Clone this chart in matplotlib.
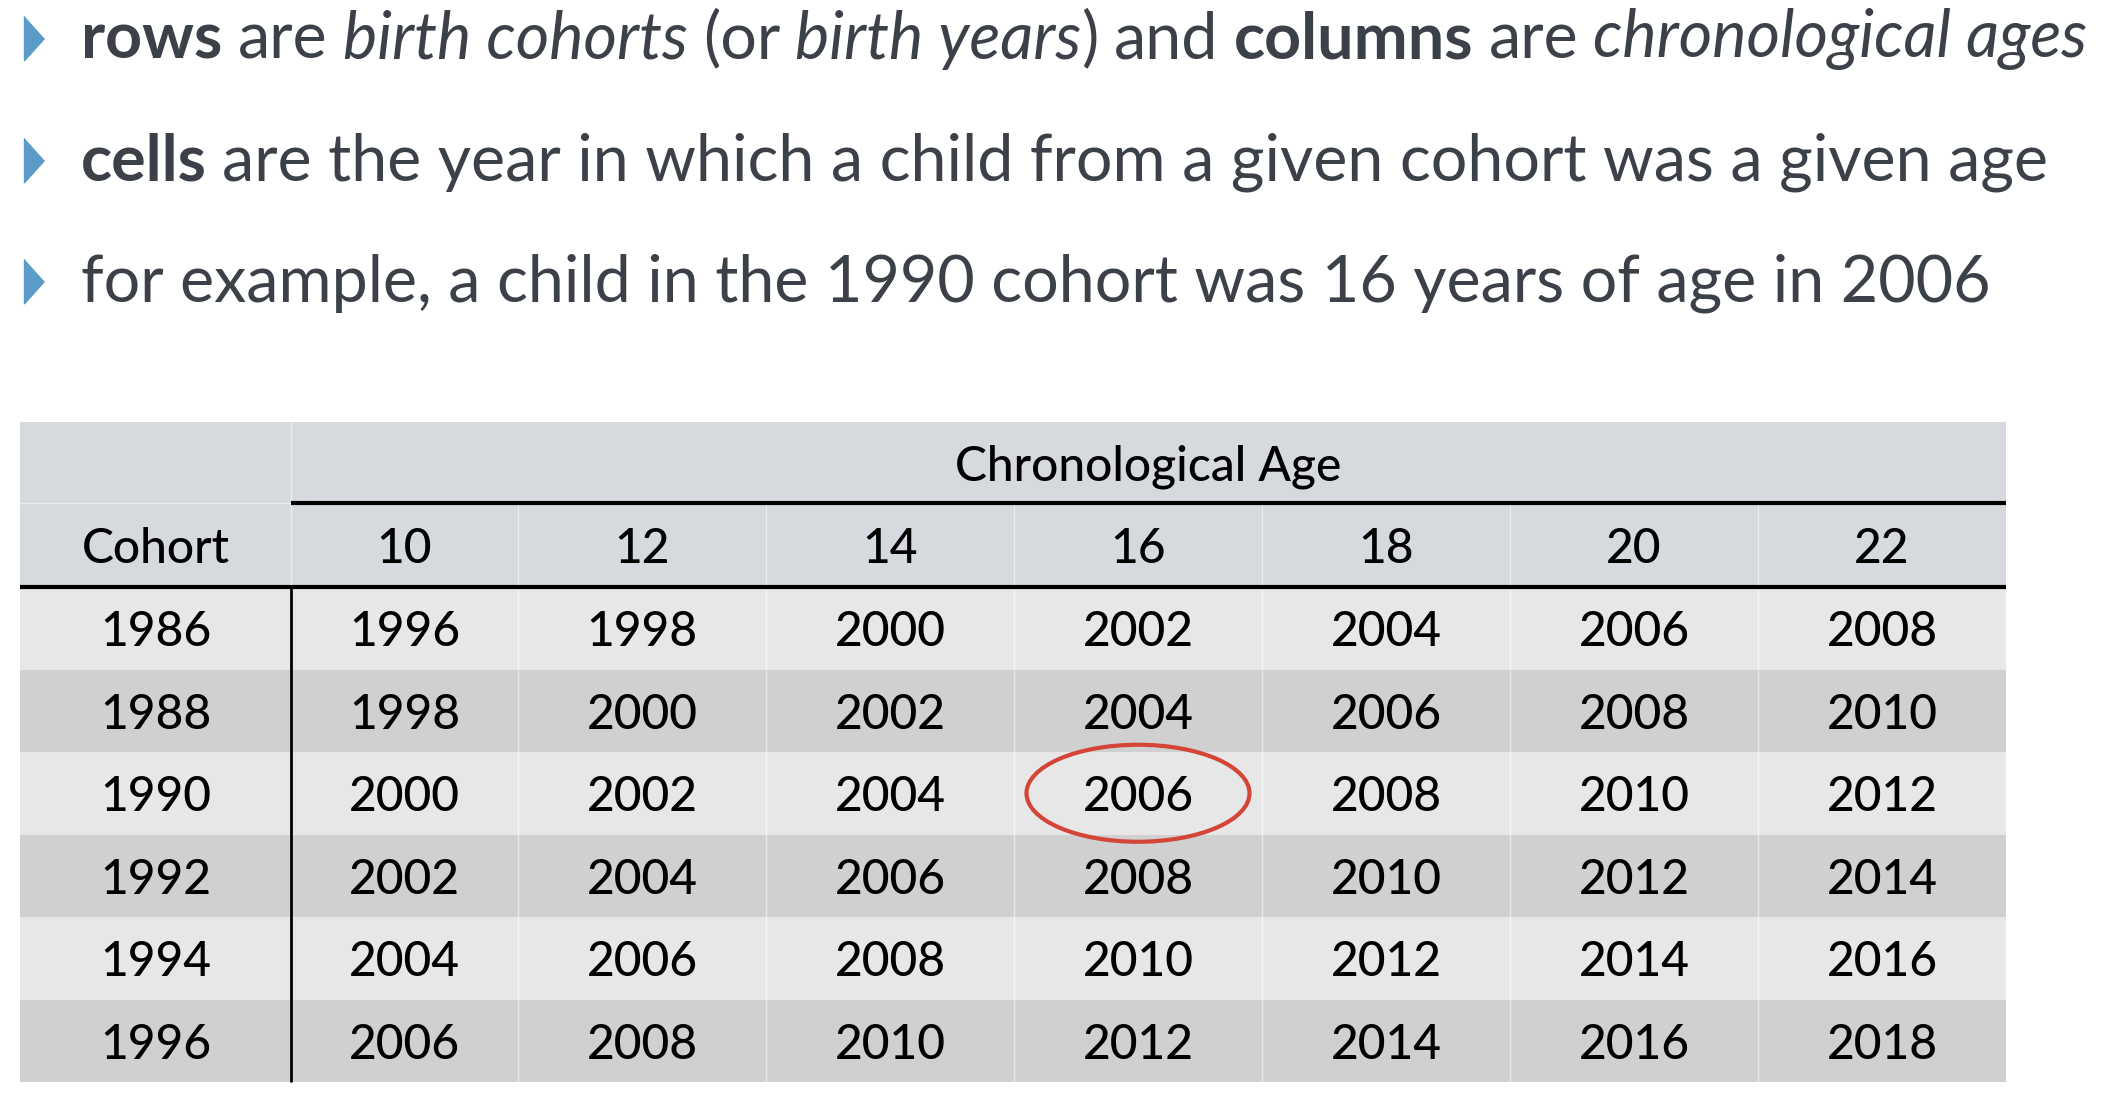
import matplotlib.pyplot as plt
from matplotlib.patches import Rectangle, Ellipse

# data
cohorts = [1986, 1988, 1990, 1992, 1994, 1996]
ages = [10, 12, 14, 16, 18, 20, 22]
highlight_cohort, highlight_age = 1990, 16

bullet_lines = [
    [("rows", "bold", "normal"), ("are", "normal", "normal"),
     ("birth cohorts", "normal", "italic"), ("(or", "normal", "normal"),
     ("birth years", "normal", "italic"), (")", "normal", "normal"),
     ("and", "normal", "normal"), ("columns", "bold", "normal"),
     ("are", "normal", "normal"), ("chronological ages", "normal", "italic")],
    [("cells", "bold", "normal"),
     ("are the year in which a child from a given cohort was a given age", "normal", "normal")],
    [("for example, a child in the 1990 cohort was 16 years of age in 2006", "normal", "normal")],
]

FONT = "Lato"
TXT = "#3c4149"
BLUE = "#5b9bc8"
HEAD_BG = "#d6d9de"
ROW_BG = ["#e7e7e7", "#cfd0cf"]

fig = plt.figure(figsize=(21.16, 11.0), dpi=100)
ax = fig.add_axes([0, 0, 1, 1])
ax.set_xlim(0, 2116)
ax.set_ylim(1100, 0)
ax.axis("off")

# bullets
bullet_fs = 46.5
bullet_y = [40, 162, 283]
tri = [(-0.45, 1), (-0.45, -1), (0.45, 0)]
for line, y in zip(bullet_lines, bullet_y):
    ax.plot([34], [y - 2], marker=tri, markersize=32, color=BLUE, clip_on=False)
    prev = None
    for text, weight, style in line:
        if prev is None:
            prev = ax.text(81, y, text, fontsize=bullet_fs, family=FONT, weight=weight,
                           style=style, color=TXT, va="center", ha="left")
        else:
            gap = 0 if text == ")" else 11
            prev = ax.annotate(text, xy=(1, 0), xycoords=prev, xytext=(gap, 0),
                               textcoords="offset points", fontsize=bullet_fs, family=FONT,
                               weight=weight, style=style, color=TXT,
                               va="bottom", ha="left")

# table geometry
x0 = 20
cohort_w = 271
col_w = [227] + [248] * (len(ages) - 1)
y0 = 422
head_h = [81, 84]
row_h = 82.5

edges = [x0, x0 + cohort_w]
for w in col_w:
    edges.append(edges[-1] + w)
x_right = edges[-1]
y_head2 = y0 + head_h[0]
y_body = y_head2 + head_h[1]
y_bottom = y_body + row_h * len(cohorts)

cell_fs = 34.5
cell_kw = dict(fontsize=cell_fs, family=FONT, weight=500, ha="center",
               va="center", color="black")
dy = 4

# backgrounds
ax.add_patch(Rectangle((x0, y0), x_right - x0, head_h[0] + head_h[1],
                       facecolor=HEAD_BG, edgecolor="none"))
for i, c in enumerate(cohorts):
    ax.add_patch(Rectangle((x0, y_body + i * row_h), x_right - x0, row_h,
                           facecolor=ROW_BG[i % 2], edgecolor="none"))

# faint cell separators
for xe in edges[1:-1]:
    ax.plot([xe, xe], [y_head2 if xe != edges[1] else y0, y_bottom],
            color="white", lw=1, alpha=0.5)
ax.plot([x0, edges[1]], [y_head2, y_head2], color="white", lw=1, alpha=0.5)

# header text
ax.text((edges[1] + x_right) / 2, y0 + head_h[0] / 2 + dy, "Chronological Age", **cell_kw)
ax.text((edges[0] + edges[1]) / 2, y_head2 + head_h[1] / 2 + dy, "Cohort", **cell_kw)
for j, a in enumerate(ages):
    ax.text((edges[j + 1] + edges[j + 2]) / 2, y_head2 + head_h[1] / 2 + dy, str(a),
            **cell_kw)

# body text
for i, c in enumerate(cohorts):
    yc = y_body + (i + 0.5) * row_h + dy
    ax.text((edges[0] + edges[1]) / 2, yc, str(c), **cell_kw)
    for j, a in enumerate(ages):
        ax.text((edges[j + 1] + edges[j + 2]) / 2, yc, str(c + a), **cell_kw)

# rules
ax.plot([edges[1], x_right], [y_head2, y_head2], color="black", lw=3, solid_capstyle="butt")
ax.plot([x0, x_right], [y_body, y_body], color="black", lw=3, solid_capstyle="butt")
ax.plot([edges[1], edges[1]], [y_body, y_bottom], color="black", lw=2, solid_capstyle="butt")

# highlight ellipse
hi = cohorts.index(highlight_cohort)
hj = ages.index(highlight_age)
ax.add_patch(Ellipse(((edges[hj + 1] + edges[hj + 2]) / 2, y_body + (hi + 0.5) * row_h),
                     223, 97, facecolor="none", edgecolor="#d44538", lw=3))

fig.savefig("out.png", dpi=100)
